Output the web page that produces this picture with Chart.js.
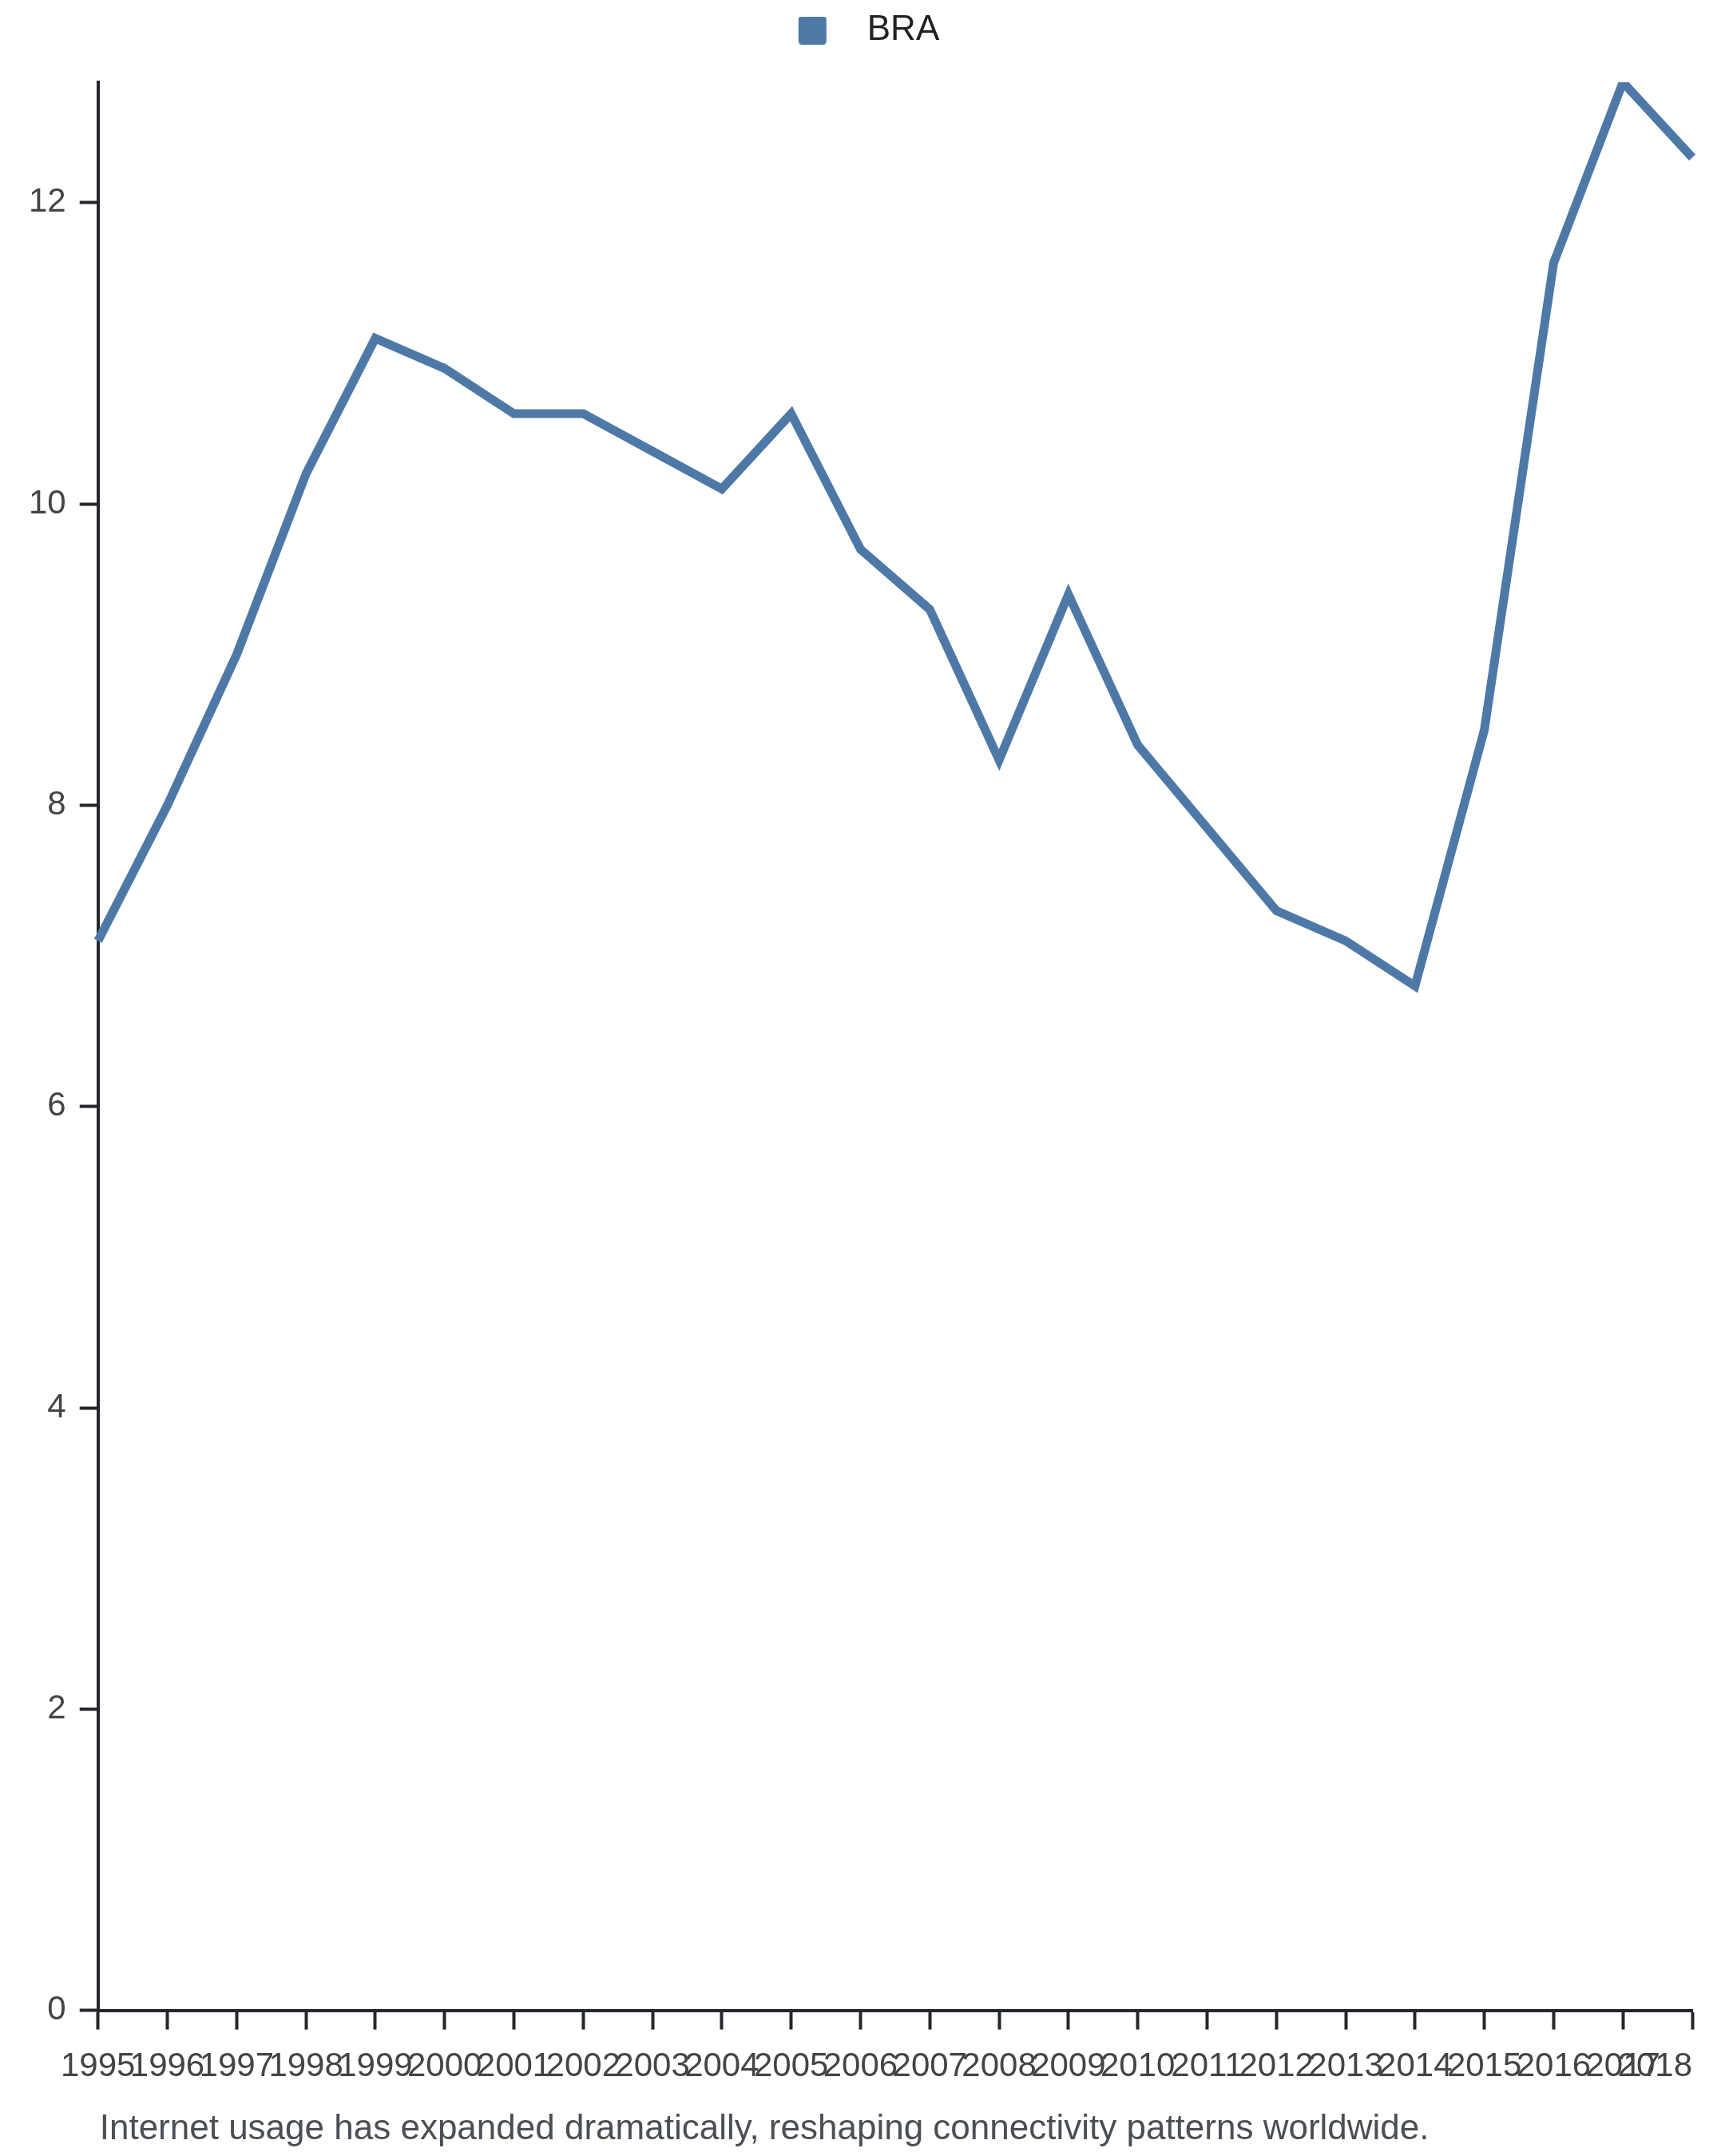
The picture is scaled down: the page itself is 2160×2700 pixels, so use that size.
<!DOCTYPE html>
<html>
<head>
<meta charset="utf-8">
<title>BRA</title>
<script src="https://cdn.jsdelivr.net/npm/chart.js@4/dist/chart.umd.min.js"></script>
<style>
    html, body { margin: 0; padding: 0; background: #ffffff; }
    .chart-container { position: relative; width: 2160px; height: 2700px; }
</style>
</head>
<body>
<div class="chart-container">
    <canvas id="braChart"></canvas>
</div>
<script>
// Chart data
const YEARS = ['1995', '1996', '1997', '1998', '1999', '2000', '2001', '2002', '2003', '2004', '2005', '2006',
    '2007', '2008', '2009', '2010', '2011', '2012', '2013', '2014', '2015', '2016', '2017', '2018'];
const BRA_VALUES = [7.1, 8.0, 9.0, 10.2, 11.1, 10.9, 10.6, 10.6, 10.35, 10.1, 10.6, 9.7,
    9.3, 8.3, 9.4, 8.4, 7.85, 7.3, 7.1, 6.8, 8.5, 11.6, 12.8, 12.3];
const Y_TICKS = [0, 2, 4, 6, 8, 10, 12];
const SERIES_LABEL = 'BRA';
const CAPTION = 'Internet usage has expanded dramatically, reshaping connectivity patterns worldwide.';

const COLORS = {
    line: '#4e79a7',
    axis: '#23272b',
    tick: '#444444',
    legend: '#222222',
    caption: '#4a4f55'
};
const FONT_FAMILY = '"Liberation Sans", Arial, Helvetica, sans-serif';

// Legend swatch: rounded square drawn off-centre in a wider canvas,
// so the legend entry sits where the original had it
function makeLegendSwatch() {
    const swatch = document.createElement('canvas');
    swatch.width = 102;
    swatch.height = 35;
    const sctx = swatch.getContext('2d');
    sctx.fillStyle = COLORS.line;
    sctx.beginPath();
    sctx.roundRect(38, 0, 35, 35, 4);
    sctx.fill();
    return swatch;
}

// Extra room between the legend and the plot
const legendGapPlugin = {
    id: 'legendGap',
    beforeInit(chart) {
        const originalFit = chart.legend.fit;
        chart.legend.fit = function fit() {
            originalFit.bind(chart.legend)();
            this.height += 33;
        };
    }
};

// 'inner' alignment keeps the last year inside the canvas; centre the first one again
const firstLabelPlugin = {
    id: 'centerFirstLabel',
    beforeDraw(chart) {
        const items = chart.scales.x.getLabelItems(chart.chartArea);
        if (items.length) {
            items[0].options.textAlign = 'center';
        }
    }
};

// Caption under the x axis, left aligned with the plot area
const captionPlugin = {
    id: 'caption',
    afterDraw(chart) {
        const { ctx, chartArea } = chart;
        ctx.save();
        ctx.font = `44px ${FONT_FAMILY}`;
        ctx.fillStyle = COLORS.caption;
        ctx.textAlign = 'left';
        ctx.textBaseline = 'alphabetic';
        ctx.fillText(CAPTION, chartArea.left + 2, chart.height - 21);
        ctx.restore();
    }
};

const ctx = document.getElementById('braChart').getContext('2d');

new Chart(ctx, {
    type: 'line',
    data: {
        labels: YEARS,
        datasets: [
            {
                label: SERIES_LABEL,
                data: BRA_VALUES,
                borderColor: COLORS.line,
                backgroundColor: COLORS.line,
                borderWidth: 11,
                pointRadius: 0,
                pointHoverRadius: 0,
                tension: 0,
                fill: false
            }
        ]
    },
    options: {
        responsive: true,
        maintainAspectRatio: false,
        animation: false,
        devicePixelRatio: 1,
        layout: {
            padding: { top: 0, left: 19, right: 41, bottom: 64 }
        },
        plugins: {
            legend: {
                display: true,
                position: 'top',
                labels: {
                    usePointStyle: true,
                    pointStyle: makeLegendSwatch(),
                    pointStyleWidth: 102,
                    boxHeight: 35,
                    padding: 16,
                    color: COLORS.legend,
                    font: { family: FONT_FAMILY, size: 44 }
                }
            },
            tooltip: { enabled: false }
        },
        scales: {
            x: {
                type: 'category',
                offset: false,
                border: { display: true, color: COLORS.axis, width: 4 },
                grid: {
                    display: true,
                    drawOnChartArea: false,
                    drawTicks: true,
                    tickLength: 24,
                    tickColor: COLORS.axis,
                    tickWidth: 4
                },
                ticks: {
                    autoSkip: false,
                    maxRotation: 0,
                    minRotation: 0,
                    align: 'inner',
                    padding: 22,
                    color: COLORS.tick,
                    font: { family: FONT_FAMILY, size: 42 }
                }
            },
            y: {
                type: 'linear',
                min: 0,
                max: Math.max(...BRA_VALUES),
                afterBuildTicks: (scale) => {
                    scale.ticks = Y_TICKS.map((value) => ({ value }));
                },
                border: { display: true, color: COLORS.axis, width: 4 },
                grid: {
                    display: true,
                    drawOnChartArea: false,
                    drawTicks: true,
                    tickLength: 23,
                    tickColor: COLORS.axis,
                    tickWidth: 4
                },
                ticks: {
                    padding: 17,
                    color: COLORS.tick,
                    font: { family: FONT_FAMILY, size: 42 }
                }
            }
        }
    },
    plugins: [legendGapPlugin, firstLabelPlugin, captionPlugin]
});
</script>
</body>
</html>
